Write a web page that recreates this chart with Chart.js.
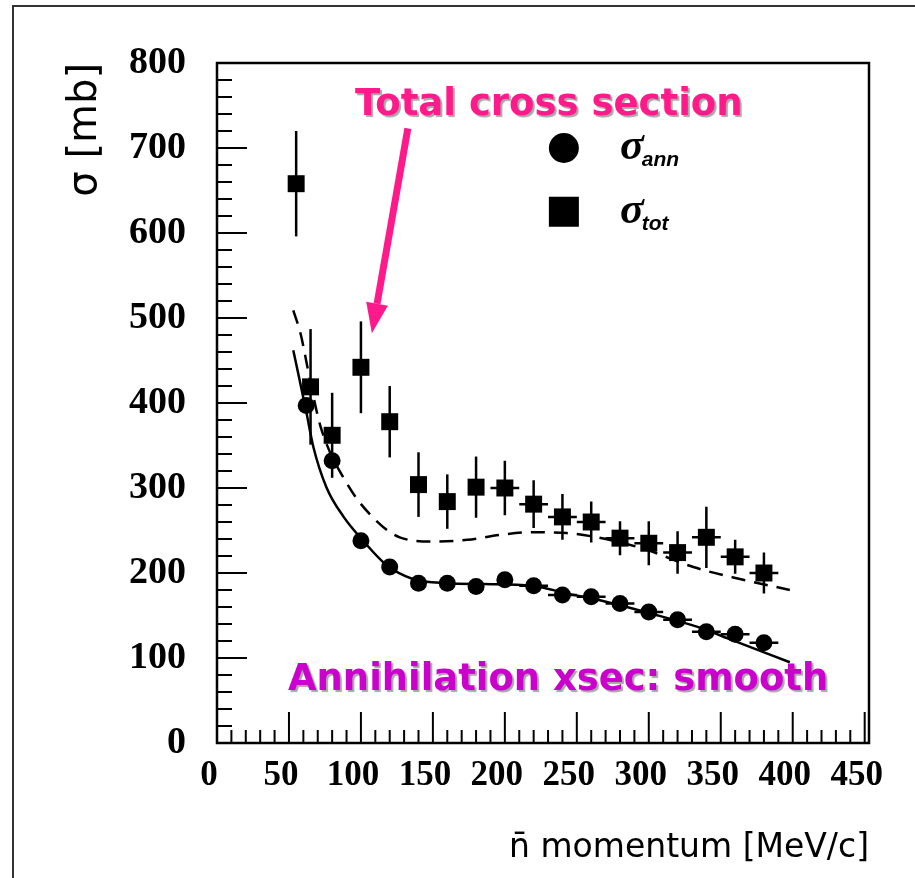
<!DOCTYPE html>
<html>
<head>
<meta charset="utf-8">
<script src="https://cdn.jsdelivr.net/npm/chart.js@4.4.1/dist/chart.umd.min.js"></script>
<style>
  html, body { margin: 0; padding: 0; background: #fff; }
  #wrap { position: relative; width: 915px; height: 878px; overflow: hidden; }
  #frame { position: absolute; left: 12px; top: 5px; width: 940px; height: 900px;
           border-left: 2px solid #333; border-top: 2px solid #333; }
  canvas { position: absolute; left: 0; top: 0; }
</style>
</head>
<body>
<div id="wrap">
  <div id="frame"></div>
  <canvas id="xsecChart" width="915" height="878"></canvas>
</div>
<script>
// sigma_tot, squares (momentum MeV/c, sigma mb)
const totMomentum = [55, 65, 80, 100, 120, 140, 160, 180, 200, 220, 240, 260, 280, 300, 320, 340, 360, 380];
const totSigma    = [658, 419, 362, 442, 378, 304, 284, 301, 300, 281, 266, 260, 241, 235, 224, 242, 219, 200];
const totErr      = [62, 68, 50, 54, 42, 38, 32, 36, 32, 28, 27, 24, 20, 26, 25, 36, 20, 24];
const totHalfBin  = [0, 0, 0, 0, 0, 0, 0, 0, 10, 10, 10, 10, 10, 10, 10, 10, 10, 10];

// sigma_ann, circles
const annMomentum = [62, 80, 100, 120, 140, 160, 180, 200, 220, 240, 260, 280, 300, 320, 340, 360, 380];
const annSigma    = [397, 332, 238, 207, 188, 188, 184, 192, 185, 174, 172, 164, 154, 145, 131, 128, 118];
const annErr      = [8, 8, 6, 6, 6, 6, 6, 6, 6, 6, 6, 6, 6, 6, 6, 6, 6];
const annHalfBin  = [0, 0, 0, 0, 0, 0, 0, 0, 10, 10, 10, 10, 10, 10, 10, 10, 10];

// fitted curves
const annFitP = [53, 62, 67, 76, 88, 101, 118, 136, 160, 185, 219, 243, 266, 300, 335, 358, 398];
const annFitS = [462, 390, 348, 301, 266, 239, 209, 193, 188, 187, 185, 176, 168, 153, 136, 121, 95];
const totFitP = [53, 58, 65, 72, 90, 108, 127, 150, 174, 197, 219, 243, 278, 299, 331, 358, 398];
const totFitS = [509, 482, 424, 372, 306, 266, 242, 237, 239, 245, 248, 247, 237, 227, 207, 195, 180];

const xStep = 50;
const yStep = 100;

function pts(xs, ys) { return xs.map((v, i) => ({ x: v, y: ys[i] })); }

const extras = {
  id: 'extras',
  beforeDatasetsDraw(chart) {
    const { ctx, chartArea: a, scales: { x, y } } = chart;
    ctx.save();
    ctx.strokeStyle = '#000';
    ctx.lineWidth = 2;
    // inner ticks, left axis
    for (let v = 20; v < 800; v += 20) {
      const py = y.getPixelForValue(v);
      const len = v % 100 === 0 ? 30 : 15;
      ctx.beginPath(); ctx.moveTo(a.left, py); ctx.lineTo(a.left + len, py); ctx.stroke();
    }
    // inner ticks, bottom axis
    for (let v = 10; v < x.max; v += 10) {
      const px = x.getPixelForValue(v);
      const len = v % 50 === 0 ? 31 : 13;
      ctx.beginPath(); ctx.moveTo(px, a.bottom); ctx.lineTo(px, a.bottom - len); ctx.stroke();
    }
    // error bars
    ctx.lineWidth = 2.5;
    const bars = (xs, ys, ey, ex) => {
      xs.forEach((v, i) => {
        const px = x.getPixelForValue(v), py = y.getPixelForValue(ys[i]);
        ctx.beginPath();
        ctx.moveTo(px, y.getPixelForValue(ys[i] - ey[i]));
        ctx.lineTo(px, y.getPixelForValue(ys[i] + ey[i]));
        if (ex[i]) {
          ctx.moveTo(x.getPixelForValue(v - ex[i]), py);
          ctx.lineTo(x.getPixelForValue(v + ex[i]), py);
        }
        ctx.stroke();
      });
    };
    bars(totMomentum, totSigma, totErr, totHalfBin);
    bars(annMomentum, annSigma, annErr, annHalfBin);
    ctx.restore();
  },
  afterDraw(chart) {
    const { ctx, chartArea: a, scales: { x, y } } = chart;
    ctx.save();
    // plot frame
    ctx.strokeStyle = '#000';
    ctx.lineWidth = 2.5;
    ctx.strokeRect(a.left, a.top, a.right - a.left, a.bottom - a.top);

    // legend
    const lx = x.getPixelForValue(241);
    ctx.fillStyle = '#000';
    ctx.beginPath(); ctx.arc(lx, y.getPixelForValue(700), 15, 0, Math.PI * 2); ctx.fill();
    const sq = y.getPixelForValue(625);
    ctx.fillRect(lx - 15, sq - 15, 30, 30);
    const legendText = (py, sub) => {
      const tx = x.getPixelForValue(280);
      ctx.textBaseline = 'alphabetic';
      ctx.textAlign = 'left';
      ctx.font = 'italic bold 44px "Liberation Serif"';
      ctx.fillText('σ', tx, py + 11);
      const w = ctx.measureText('σ').width;
      ctx.font = 'italic bold 21px "Liberation Sans"';
      ctx.fillText(sub, tx + w - 2, py + 18);
    };
    legendText(y.getPixelForValue(700), 'ann');
    legendText(sq, 'tot');

    // annotations
    const label = (text, vx, vy, width, color) => {
      let size = 36;
      ctx.font = 'bold ' + size + 'px "DejaVu Sans"';
      size = size * width / ctx.measureText(text).width;
      ctx.font = 'bold ' + size.toFixed(1) + 'px "DejaVu Sans"';
      ctx.textAlign = 'center';
      ctx.textBaseline = 'middle';
      ctx.shadowColor = 'rgba(0,0,0,0.35)';
      ctx.shadowOffsetX = 2; ctx.shadowOffsetY = 2; ctx.shadowBlur = 1;
      ctx.fillStyle = color;
      ctx.fillText(text, x.getPixelForValue(vx), y.getPixelForValue(vy));
      ctx.shadowColor = 'transparent';
    };
    label('Total cross section', 230.5, 750, 388, '#ff1a8c');
    label('Annihilation xsec: smooth', 237, 74, 540, '#cc00cc');

    // arrow
    const x0 = x.getPixelForValue(132.6), y0 = y.getPixelForValue(723);
    const x1 = x.getPixelForValue(107.6), y1 = y.getPixelForValue(482);
    const ang = Math.atan2(y1 - y0, x1 - x0);
    const head = 30, hw = 11;
    const bx = x1 - head * Math.cos(ang), by = y1 - head * Math.sin(ang);
    ctx.strokeStyle = '#ff1a8c';
    ctx.fillStyle = '#ff1a8c';
    ctx.lineWidth = 7;
    ctx.beginPath(); ctx.moveTo(x0, y0); ctx.lineTo(bx, by); ctx.stroke();
    ctx.beginPath();
    ctx.moveTo(x1, y1);
    ctx.lineTo(bx + hw * Math.sin(ang), by - hw * Math.cos(ang));
    ctx.lineTo(bx - hw * Math.sin(ang), by + hw * Math.cos(ang));
    ctx.closePath(); ctx.fill();
    ctx.restore();
  }
};

const ctx = document.getElementById('xsecChart').getContext('2d');
new Chart(ctx, {
  type: 'scatter',
  data: {
    datasets: [
      {
        label: 'σ tot',
        data: pts(totMomentum, totSigma),
        pointStyle: 'rect',
        pointRadius: 12,
        backgroundColor: '#000',
        borderColor: '#000',
        borderWidth: 0
      },
      {
        label: 'σ ann',
        data: pts(annMomentum, annSigma),
        pointStyle: 'circle',
        pointRadius: 8.5,
        backgroundColor: '#000',
        borderColor: '#000',
        borderWidth: 0
      },
      {
        label: 'ann fit',
        data: pts(annFitP, annFitS),
        showLine: true,
        pointRadius: 0,
        borderColor: '#000',
        borderWidth: 2.5,
        cubicInterpolationMode: 'monotone'
      },
      {
        label: 'tot fit',
        data: pts(totFitP, totFitS),
        showLine: true,
        pointRadius: 0,
        borderColor: '#000',
        borderWidth: 2.5,
        borderDash: [14, 9],
        cubicInterpolationMode: 'monotone'
      }
    ]
  },
  options: {
    responsive: false,
    animation: false,
    layout: { padding: { top: 63, right: 46, left: 0, bottom: 0 } },
    plugins: { legend: { display: false }, tooltip: { enabled: false } },
    scales: {
      x: {
        type: 'linear', min: 0, max: 453,
        grid: { display: false, drawTicks: false },
        border: { display: false },
        ticks: {
          stepSize: xStep, includeBounds: false, padding: 12, color: '#000', maxRotation: 0,
          labelOffset: -8,
          font: { family: 'Liberation Serif', weight: 'bold', size: 35 }
        },
        title: {
          display: true, text: 'n\u0304 momentum [MeV/c]', align: 'end', color: '#000',
          font: { family: 'DejaVu Sans', size: 33 }, padding: { top: 0, bottom: 10 }
        },
        afterFit(s) { s.height = 135; }
      },
      y: {
        type: 'linear', min: 0, max: 800,
        grid: { display: false, drawTicks: false },
        border: { display: false },
        ticks: {
          stepSize: yStep, padding: 31, color: '#000',
          font: { family: 'Liberation Serif', weight: 'bold', size: 38 }
        },
        title: {
          display: true, text: 'σ [mb]', align: 'end', color: '#000',
          font: { family: 'DejaVu Sans', size: 40 }, padding: { top: 62, bottom: 0 }
        },
        afterFit(s) { s.width = 217; }
      }
    }
  },
  plugins: [extras]
});
</script>
</body>
</html>
